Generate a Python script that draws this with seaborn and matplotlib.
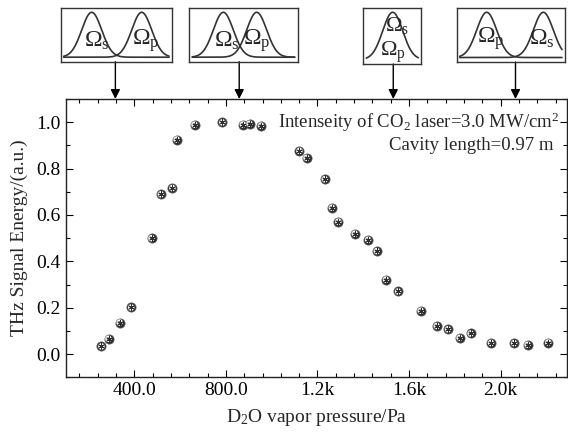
import numpy as np
import pandas as pd
import seaborn as sns
import matplotlib.pyplot as plt

# measured points (D2O pressure in Pa, normalised THz energy)
pressure = [256, 287, 336, 386, 475, 516, 566, 585, 663, 784, 874, 903, 953,
            1121, 1152, 1232, 1263, 1291, 1363, 1421, 1459, 1499, 1552, 1651,
            1721, 1770, 1821, 1869, 1958, 2059, 2118, 2208]
energy = [0.033, 0.066, 0.136, 0.201, 0.500, 0.689, 0.716, 0.925, 0.989, 0.999,
          0.990, 0.993, 0.985, 0.876, 0.846, 0.754, 0.631, 0.571, 0.519, 0.493,
          0.444, 0.321, 0.270, 0.187, 0.121, 0.107, 0.070, 0.089, 0.048, 0.047,
          0.040, 0.050]

x_ticks = [400, 800, 1200, 1600, 2000]
x_tick_labels = ["400.0", "800.0", "1.2k", "1.6k", "2.0k"]
y_ticks = [0.0, 0.2, 0.4, 0.6, 0.8, 1.0]

# pressures the pulse sketches point at
arrow_pressure = [317, 858, 1531, 2065]
# pulse sketches: peak centres (px inside figure), labels
pulse_centres = [[91.7, 141.7], [223.3, 256.7], [392.7], [486.7, 543.3]]
pulse_labels = [["s", "p"], ["s", "p"], ["s", "p"], ["p", "s"]]

W, H = 568, 434


def fig_rect(l, t, r, b):
    return [l / W, 1 - b / H, (r - l) / W, (b - t) / H]


sns.set_style("ticks")
plt.rcParams["font.family"] = ["Liberation Serif", "DejaVu Serif"]
plt.rcParams["mathtext.fontset"] = "custom"
plt.rcParams["mathtext.rm"] = "Liberation Serif"
plt.rcParams["mathtext.it"] = "Liberation Serif:italic"

fig = plt.figure(figsize=(W / 100, H / 100), dpi=100)
ax = fig.add_axes(fig_rect(65.7, 99, 567, 377.3))

df = pd.DataFrame({"p": pressure, "e": energy})
# dark disc with a ring of light holes, like the scanned symbols
sns.scatterplot(data=df, x="p", y="e", ax=ax, marker="o", s=44,
                color="#2e2e2e", edgecolor="#555555", linewidth=0.5, zorder=3)
sns.scatterplot(data=df, x="p", y="e", ax=ax, marker="o", s=11,
                facecolor="none", edgecolor="white", linewidth=1.4, zorder=4)
sns.scatterplot(data=df, x="p", y="e", ax=ax, marker=(6, 2, 0), s=16,
                color="#2e2e2e", linewidth=0.7, zorder=5)

ax.set_xlim(100, 2290)
ax.set_ylim(-0.096, 1.097)
ax.set_xticks(x_ticks)
ax.set_xticklabels(x_tick_labels)
ax.set_yticks(y_ticks)
ax.set_yticklabels([f"{v:.1f}" for v in y_ticks])
ax.set_xticks(np.arange(160, 2290, 80), minor=True)
ax.set_yticks(np.arange(-0.1, 1.1, 0.1), minor=True)
ax.tick_params(which="both", direction="in", top=True, right=True, labelsize=14, colors="black")
ax.tick_params(which="major", length=5, width=0.8)
ax.tick_params(which="minor", length=3, width=0.8)
for s in ax.spines.values():
    s.set_linewidth(1.0)
    s.set_color("#222222")

ax.set_xlabel(r"D$_2$O vapor pressure/Pa", fontsize=14, labelpad=6)
ax.set_ylabel("THz Signal Energy/(a.u.)", fontsize=14, labelpad=6)

ax.text(0.984, 0.96, r"Intenseity of CO$_2$ laser=3.0 MW/cm$^2$", transform=ax.transAxes,
        ha="right", va="top", fontsize=13.5)
ax.text(0.973, 0.865, "Cavity length=0.97 m", transform=ax.transAxes,
        ha="right", va="top", fontsize=13.5)

# pulse sketch boxes
boxes = [(60.7, 8.3, 172, 61.7), (189.3, 8.3, 297.7, 61.7),
         (363.3, 8.3, 421.3, 64), (456.7, 8.3, 565, 62)]
label_pos = [[(97, 41), (146, 41)], [(227, 41), (257, 41)],
             [(397, 26), (393, 52)], [(491, 39), (542, 39)]]
label_size = [17, 17, 16, 17]
for box, centres, labs, lpos, fs in zip(boxes, pulse_centres, pulse_labels, label_pos, label_size):
    l, t, r, b = box
    iax = fig.add_axes(fig_rect(l, t, r, b))
    iax.set_xlim(l, r)
    iax.set_ylim(b, t)
    xs = np.linspace(l + 3, r - 3, 200)
    for c in centres:
        ys = b - 4.5 - (b - t - 8.5) * np.exp(-0.5 * ((xs - c) / 10.0) ** 2)
        iax.plot(xs, ys, color="#333333", lw=1.2)
    for name, (px, py) in zip(labs, lpos):
        iax.text(px, py, r"$\mathrm{\Omega}_\mathrm{%s}$" % name, ha="center", va="center",
                 fontsize=fs)
    iax.set_xticks([])
    iax.set_yticks([])
    for s in iax.spines.values():
        s.set_linewidth(1.0)
        s.set_color("#333333")
    iax.patch.set_alpha(0)

for xp, box in zip(arrow_pressure, boxes):
    ax.annotate("", xy=(xp, 1.0), xycoords=("data", "axes fraction"),
                xytext=(xp, 1 - box[3] / H), textcoords=("data", "figure fraction"),
                arrowprops=dict(arrowstyle="-|>", color="black", lw=1.0,
                                mutation_scale=14, shrinkA=0, shrinkB=0),
                annotation_clip=False)

fig.savefig("out.png", dpi=100)
